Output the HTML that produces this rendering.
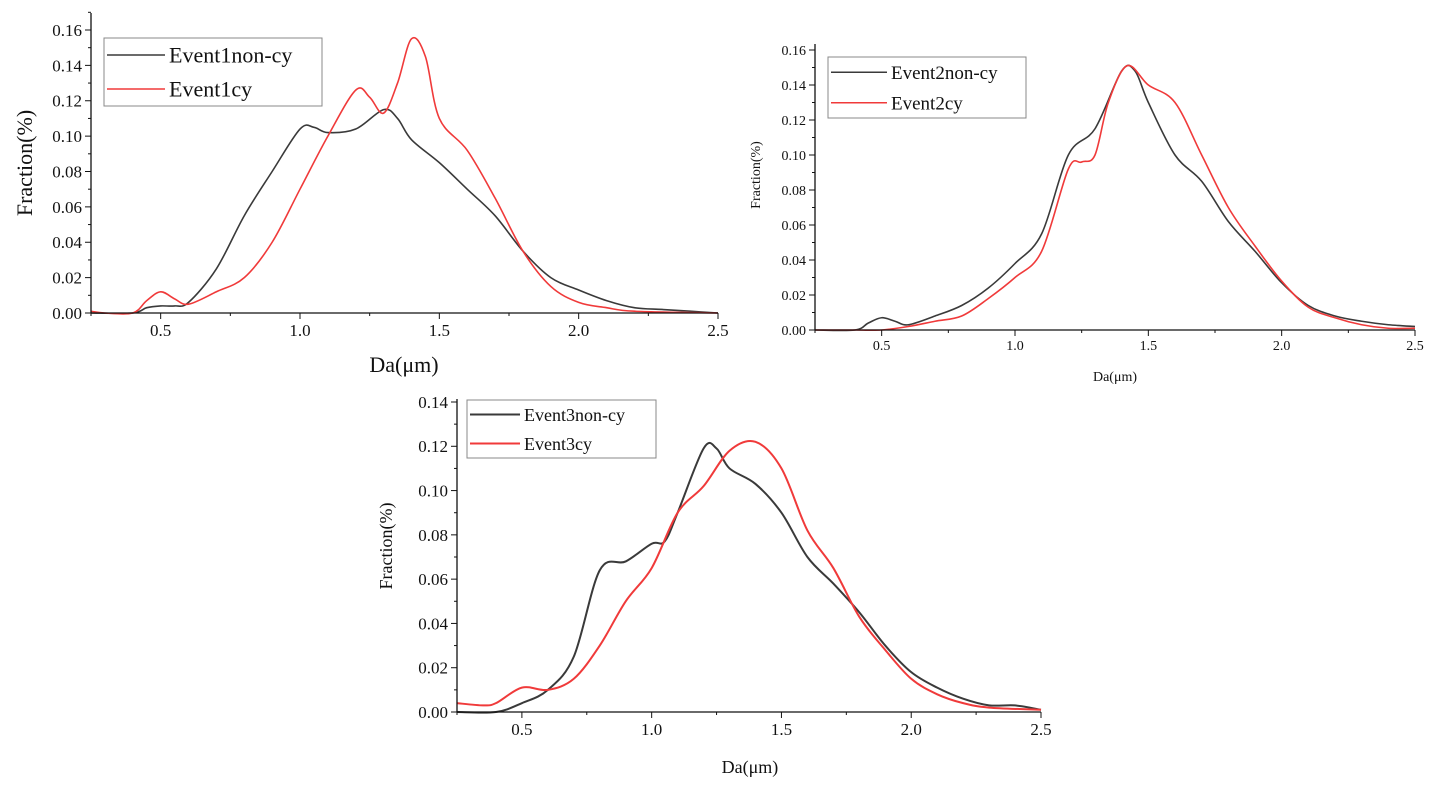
<!DOCTYPE html>
<html><head><meta charset="utf-8"><style>
body{margin:0;background:#fff;width:1439px;height:790px;overflow:hidden}
svg text{font-family:"Liberation Serif",serif;fill:#111}
</style></head><body>
<svg id="root" width="1439" height="790"></svg>
<script>
const xs1=[0.25,0.4,0.45,0.5,0.55,0.6,0.7,0.8,0.9,1.0,1.05,1.1,1.2,1.3,1.35,1.4,1.5,1.6,1.7,1.8,1.9,2.0,2.1,2.2,2.3,2.4,2.5];
const e1non=[0,0,0.003,0.004,0.004,0.006,0.025,0.055,0.08,0.104,0.105,0.102,0.104,0.115,0.11,0.098,0.085,0.07,0.055,0.035,0.02,0.013,0.007,0.003,0.002,0.001,0];
const xs1c=[0.25,0.3,0.4,0.45,0.5,0.55,0.6,0.7,0.8,0.9,1.0,1.1,1.2,1.25,1.3,1.35,1.4,1.45,1.5,1.6,1.7,1.8,1.9,2.0,2.1,2.2,2.5];
const e1cy=[0.001,0,0,0.007,0.012,0.008,0.005,0.012,0.02,0.04,0.07,0.1,0.126,0.122,0.113,0.13,0.155,0.145,0.11,0.092,0.065,0.035,0.015,0.006,0.003,0.001,0];
const xs2=[0.25,0.4,0.45,0.5,0.55,0.6,0.7,0.8,0.9,1.0,1.1,1.2,1.3,1.4,1.45,1.5,1.6,1.7,1.8,1.9,2.0,2.1,2.2,2.3,2.4,2.5];
const e2non=[0,0,0.004,0.007,0.005,0.003,0.008,0.014,0.024,0.038,0.055,0.1,0.115,0.148,0.148,0.13,0.1,0.085,0.062,0.045,0.027,0.014,0.008,0.005,0.003,0.002];
const xs2c=[0.25,0.4,0.5,0.6,0.7,0.8,0.9,1.0,1.1,1.2,1.25,1.3,1.35,1.42,1.5,1.6,1.7,1.8,1.9,2.0,2.1,2.2,2.3,2.4,2.5];
const e2cy=[0,0,0,0.002,0.005,0.008,0.018,0.03,0.045,0.092,0.096,0.1,0.13,0.151,0.14,0.13,0.1,0.07,0.048,0.028,0.013,0.007,0.003,0.001,0.001];
const xs3=[0.25,0.4,0.5,0.6,0.7,0.8,0.9,1.0,1.05,1.1,1.2,1.25,1.3,1.4,1.5,1.6,1.7,1.8,1.9,2.0,2.1,2.2,2.3,2.4,2.5];
const e3non=[0,0,0.004,0.01,0.025,0.064,0.068,0.076,0.077,0.09,0.119,0.119,0.11,0.103,0.09,0.07,0.058,0.045,0.03,0.018,0.011,0.006,0.003,0.003,0.001];
const xs3c=[0.25,0.35,0.4,0.5,0.6,0.7,0.8,0.9,1.0,1.1,1.2,1.3,1.4,1.5,1.6,1.7,1.8,1.9,2.0,2.1,2.2,2.3,2.5];
const e3cy=[0.004,0.003,0.004,0.011,0.01,0.015,0.03,0.05,0.065,0.09,0.102,0.118,0.122,0.11,0.082,0.065,0.043,0.028,0.015,0.008,0.004,0.002,0.001];
const xTicks=[0.5,1.0,1.5,2.0,2.5];
const NS="http://www.w3.org/2000/svg";
const root=document.getElementById('root');
function mk(tag,attrs,parent){const e=document.createElementNS(NS,tag);for(const k in attrs)e.setAttribute(k,attrs[k]);parent.appendChild(e);return e;}
function chart(cfg){
  const g=mk('g',{},root);
  
  
  const X=v=>cfg.x0+(v-0.25)/2.25*(cfg.x1-cfg.x0);
  const Y=v=>cfg.y0-v/cfg.ymax*(cfg.y0-cfg.ytopTick);
  function line(xa,ya,col,nm){
    const p=xa.map((x,i)=>[X(x),Y(ya[i])]);
    let d='M'+p[0][0]+','+p[0][1];
    for(let i=0;i<p.length-1;i++){
      const p0=p[i-1]||p[i],p1=p[i],p2=p[i+1],p3=p[i+2]||p2;
      const c1=[p1[0]+(p2[0]-p0[0])/6,p1[1]+(p2[1]-p0[1])/6];
      const c2=[p2[0]-(p3[0]-p1[0])/6,p2[1]-(p3[1]-p1[1])/6];
      d+=` C${c1[0]},${c1[1]} ${c2[0]},${c2[1]} ${p2[0]},${p2[1]}`;
    }
    const e=mk('path',{d:d,fill:'none',stroke:col,'stroke-width':cfg.lw},g);
    
    
  }
  line(cfg.xa,cfg.ya,'#3a3a3a',cfg.s1);
  line(cfg.xb,cfg.yb,'#f03a3a',cfg.s2);
  mk('line',{x1:cfg.x0,y1:cfg.y0,x2:cfg.x1,y2:cfg.y0,stroke:'#111','stroke-width':1.3},g);
  mk('line',{x1:cfg.x0,y1:cfg.y0,x2:cfg.x0,y2:cfg.ytop,stroke:'#111','stroke-width':1.3},g);
  xTicks.forEach(t=>{
    mk('line',{x1:X(t),y1:cfg.y0,x2:X(t),y2:cfg.y0+6,stroke:'#111'},g);
    mk('line',{x1:X(t-0.25),y1:cfg.y0,x2:X(t-0.25),y2:cfg.y0+3,stroke:'#111'},g);
    const tx=mk('text',{x:X(t),y:cfg.y0+cfg.tf+6,'font-size':cfg.tf,'text-anchor':'middle'},g);
    tx.textContent=t.toFixed(1);
  });
  for(let v=0;v<=cfg.ymax+1e-9;v+=0.02){
    mk('line',{x1:cfg.x0,y1:Y(v),x2:cfg.x0-6,y2:Y(v),stroke:'#111'},g);
    if(v+0.01<=cfg.ymax+0.011&&Y(v+0.01)>=cfg.ytop-1) mk('line',{x1:cfg.x0,y1:Y(v+0.01),x2:cfg.x0-3,y2:Y(v+0.01),stroke:'#111'},g);
    const tx=mk('text',{x:cfg.x0-9,y:Y(v)+cfg.tf*0.35,'font-size':cfg.tf,'text-anchor':'end'},g);
    tx.textContent=v.toFixed(2);
  }
  const xl=mk('text',{x:cfg.xlx,y:cfg.xly,'font-size':cfg.lf,'text-anchor':'middle'},g);
  xl.textContent='Da(μm)';
  
  
  const yl=mk('text',{x:0,y:0,'font-size':cfg.lf,'text-anchor':'middle',transform:`translate(${cfg.ylx},${cfg.yly}) rotate(-90)`},g);
  yl.textContent='Fraction(%)';
  
  
  const L=cfg.leg;
  const lg=mk('g',{},g);
  
  
  mk('rect',{x:L[0],y:L[1],width:L[2],height:L[3],fill:'#fff',stroke:'#888'},lg);
  const rh=L[3]/2;
  [[cfg.s1,'#3a3a3a'],[cfg.s2,'#f03a3a']].forEach((s,i)=>{
    const cy=L[1]+rh*(i+0.5);
    mk('line',{x1:L[0]+3,y1:cy,x2:L[0]+3+cfg.legLine,y2:cy,stroke:s[1],'stroke-width':cfg.lw},lg);
    const t=mk('text',{x:L[0]+cfg.legLine+7,y:cy+cfg.legF*0.35,'font-size':cfg.legF},lg);
    t.textContent=s[0];
  });
}
chart({name:'chart-event1',x0:91,x1:718,y0:313,ytopTick:30,ymax:0.16,ytop:13,xa:xs1,ya:e1non,xb:xs1c,yb:e1cy,s1:'Event1non-cy',s2:'Event1cy',lw:1.6,tf:17,lf:22,xlx:404,xly:372,ylx:32,yly:163,leg:[104,38,218,68],legLine:58,legF:22});
chart({name:'chart-event2',x0:815,x1:1415,y0:330,ytopTick:50,ymax:0.16,ytop:44,xa:xs2,ya:e2non,xb:xs2c,yb:e2cy,s1:'Event2non-cy',s2:'Event2cy',lw:1.6,tf:14,lf:14,xlx:1115,xly:381,ylx:760,yly:175,leg:[828,57,198,61],legLine:56,legF:19});
chart({name:'chart-event3',x0:457,x1:1041,y0:712,ytopTick:402,ymax:0.14,ytop:399,xa:xs3,ya:e3non,xb:xs3c,yb:e3cy,s1:'Event3non-cy',s2:'Event3cy',lw:2,tf:17,lf:18,xlx:750,xly:773,ylx:392,yly:546,leg:[467,400,189,58],legLine:50,legF:18});
</script>
</body></html>
